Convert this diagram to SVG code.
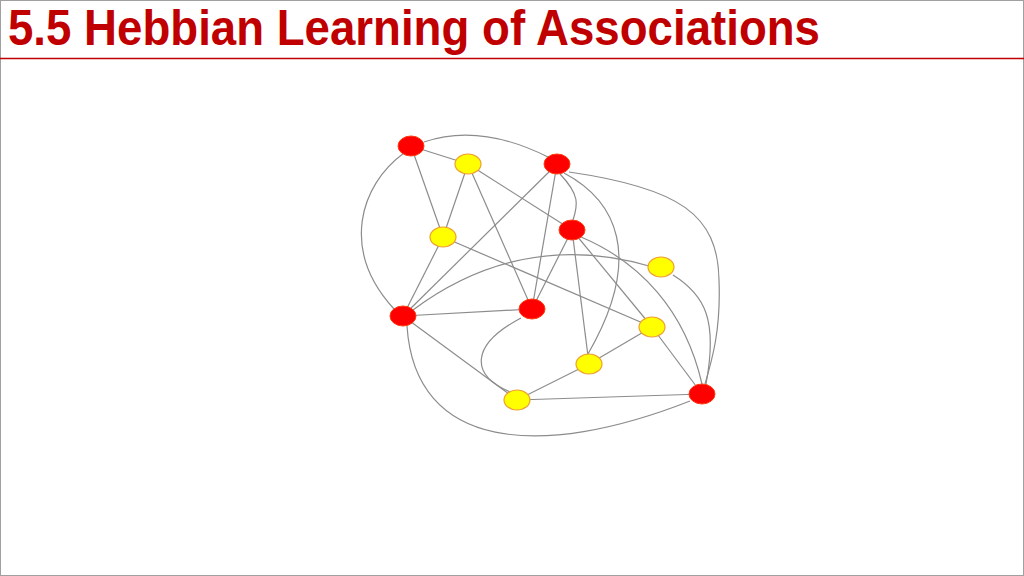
<svg xmlns="http://www.w3.org/2000/svg" width="1024" height="576" viewBox="0 0 1024 576">
<style>
.title{font-family:"Liberation Sans",Arial,sans-serif;font-weight:bold;font-size:50px;fill:#c00000}
.e{fill:none;stroke:#8c8c8c;stroke-width:1.2}
.r{fill:#ff0000;stroke:#ff3a10;stroke-width:1}
.y{fill:#ffff00;stroke:#eea030;stroke-width:1.2}
</style>
<rect x="0.5" y="0.5" width="1023" height="575" fill="#ffffff" stroke="#a0a0a0" stroke-width="1"/>
<text class="title" x="8" y="45" textLength="812" lengthAdjust="spacingAndGlyphs">5.5 Hebbian Learning of Associations</text>
<line x1="0" y1="58.5" x2="1024" y2="58.5" stroke="#c00000" stroke-width="1.5"/>
<g id="connectors">
<line class="e" x1="411" y1="146" x2="468" y2="164"/>
<path class="e" d="M424 142 C450 133 490 128 548 157"/>
<line class="e" x1="411" y1="146" x2="443" y2="237"/>
<path class="e" d="M404 153 C360 185 340 250 394 309"/>
<line class="e" x1="468" y1="164" x2="443" y2="237"/>
<line class="e" x1="468" y1="164" x2="572" y2="230"/>
<line class="e" x1="468" y1="164" x2="532" y2="309"/>
<line class="e" x1="557" y1="164" x2="403" y2="316"/>
<line class="e" x1="557" y1="164" x2="532" y2="309"/>
<path class="e" d="M560 174 C580 195 578 205 573 220"/>
<path class="e" d="M564 173 C615 200 645 255 588 354"/>
<path class="e" d="M569 172 C680 188 718 215 719 280 C721 330 712 360 705 384"/>
<line class="e" x1="572" y1="230" x2="532" y2="309"/>
<line class="e" x1="572" y1="230" x2="652" y2="327"/>
<line class="e" x1="572" y1="230" x2="589" y2="364"/>
<path class="e" d="M581 237 C640 262 685 310 702 384"/>
<path class="e" d="M673 275 C705 295 718 320 706 384"/>
<path class="e" d="M413 310 C480 260 560 240 649 266"/>
<line class="e" x1="443" y1="237" x2="403" y2="316"/>
<line class="e" x1="443" y1="237" x2="652" y2="327"/>
<line class="e" x1="403" y1="316" x2="532" y2="309"/>
<line class="e" x1="403" y1="316" x2="517" y2="400"/>
<path class="e" d="M407 326 C415 450 540 460 690 401"/>
<path class="e" d="M521 318 C470 345 470 375 510 392"/>
<line class="e" x1="517" y1="400" x2="589" y2="364"/>
<line class="e" x1="517" y1="400" x2="702" y2="394"/>
<line class="e" x1="589" y1="364" x2="652" y2="327"/>
<line class="e" x1="652" y1="327" x2="702" y2="394"/>
</g>
<g id="nA"><ellipse class="r" cx="411" cy="146" rx="13" ry="10"/></g>
<g id="nB"><ellipse class="y" cx="468" cy="164" rx="13" ry="10"/></g>
<g id="nC"><ellipse class="r" cx="557" cy="164" rx="13" ry="10"/></g>
<g id="nD"><ellipse class="y" cx="443" cy="237" rx="13" ry="10"/></g>
<g id="nE"><ellipse class="r" cx="572" cy="230" rx="13" ry="10"/></g>
<g id="nF"><ellipse class="y" cx="661" cy="267" rx="13" ry="10"/></g>
<g id="nG"><ellipse class="r" cx="403" cy="316" rx="13" ry="10"/></g>
<g id="nH"><ellipse class="r" cx="532" cy="309" rx="13" ry="10"/></g>
<g id="nI"><ellipse class="y" cx="652" cy="327" rx="13" ry="10"/></g>
<g id="nJ"><ellipse class="y" cx="589" cy="364" rx="13" ry="10"/></g>
<g id="nK"><ellipse class="y" cx="517" cy="400" rx="13" ry="10"/></g>
<g id="nL"><ellipse class="r" cx="702" cy="394" rx="13" ry="10"/></g>
</svg>
